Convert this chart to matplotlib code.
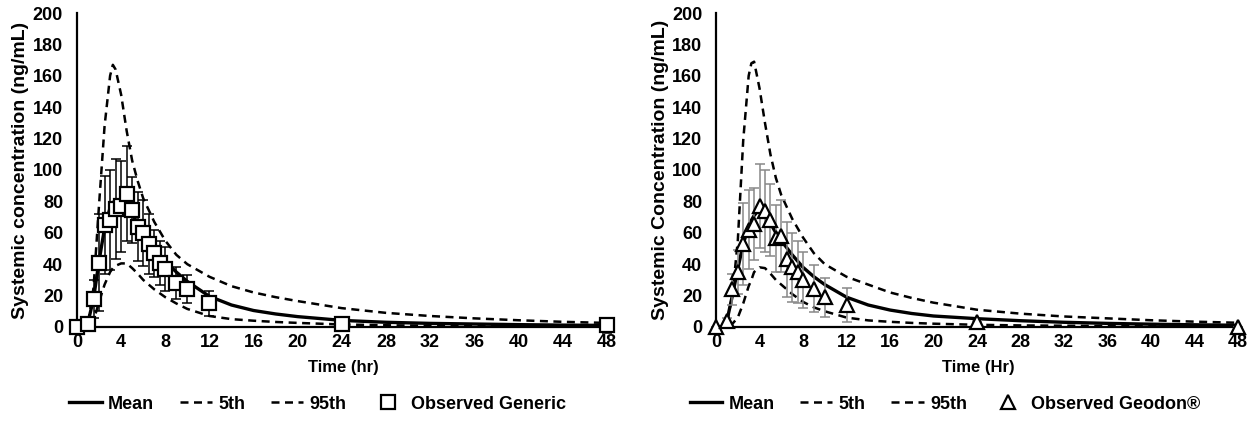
import matplotlib
matplotlib.use("Agg")
import matplotlib.pyplot as plt
from matplotlib.lines import Line2D

plt.rcParams['font.family'] = ['Liberation Sans', 'DejaVu Sans']
plt.rcParams['font.weight'] = 'bold'

# model time grid (hr), shared by the simulated curves
t_model = [0, 0.5, 1, 1.5, 2, 2.5, 3, 3.25, 3.5, 4, 4.5, 5, 5.5, 6, 7, 8, 9, 10,
           12, 14, 16, 18, 20, 24, 28, 32, 36, 40, 44, 48]

# generic panel: simulated mean / 5th / 95th
mean_gen = [0, 0, 3, 18, 42, 63, 76, 79, 81, 80, 77, 72, 66, 60, 50, 42, 35, 29,
            19.5, 14, 10.5, 8.3, 6.6, 4.2, 3.0, 2.3, 1.9, 1.5, 1.2, 1.0]
p05_gen = [0, 0, 0, 4, 16, 27, 35, 37.5, 39, 40.5, 40.5, 37.5, 34, 30, 24, 19, 15, 11.5,
           7, 5, 4, 3.2, 2.6, 1.6, 1.1, 0.8, 0.6, 0.5, 0.4, 0.3]
p95_gen = [0, 0, 2, 25, 78, 128, 160, 167, 164, 148, 125, 106, 93, 82, 67, 55, 46, 40,
           32, 26, 22, 19, 16.5, 12, 9, 7, 5.5, 4.3, 3.3, 2.6]

# generic panel: observed mean +/- SD
t_obs_gen = [0, 1, 1.5, 2, 2.5, 3, 3.5, 4, 4.5, 5, 5.5, 6, 6.5, 7, 7.5, 8, 9, 10, 12, 24, 48]
c_obs_gen = [0, 2, 18, 41, 65, 68, 75, 77, 85, 74.5, 64, 60, 53, 47, 41, 37, 28, 24, 15, 2, 1]
sd_obs_gen = [0, 3, 12, 31, 31, 32, 32, 29, 30, 21, 22, 21, 19, 15, 14, 14, 10, 9, 8, 1, 5]

# Geodon panel: simulated mean / 5th / 95th
mean_geo = [0, 0, 4, 20, 37, 53, 64, 68, 71, 75, 72, 66, 60, 55, 46, 38, 32, 27,
            19, 14, 10.8, 8.6, 7.0, 5.3, 4.0, 3.0, 2.3, 1.8, 1.4, 1.1]
p05_geo = [0, 0, 0, 2, 6, 15, 26, 30, 35, 38, 37.5, 34, 30, 27, 21, 16, 12.5, 10,
           6, 4.2, 3.3, 2.6, 2.1, 1.4, 1.0, 0.8, 0.6, 0.5, 0.4, 0.3]
p95_geo = [0, 0, 3, 20, 55, 119, 160, 168, 169, 152, 130, 110, 95, 84, 69, 57, 47, 40,
           32, 27, 22, 18.5, 15.5, 11, 8.5, 6.7, 5.5, 4.3, 3.4, 2.7]

# Geodon panel: observed mean +/- SD
t_obs_geo = [0, 1, 1.5, 2, 2.5, 3, 3.5, 4, 4.5, 5, 5.5, 6, 6.5, 7, 7.5, 8, 9, 10, 12, 24, 48]
c_obs_geo = [0, 4, 24, 35, 53, 62, 65.5, 77, 74, 68, 56.5, 58, 43, 38, 35, 30, 24.5, 19, 14, 3, 0]
sd_obs_geo = [0, 2, 10, 14, 26, 25, 23, 27, 26, 23, 21.5, 23, 24, 22, 20, 18, 15, 12.5, 11, 1, 0]

x_ticks = list(range(0, 49, 4))
y_ticks = list(range(0, 201, 20))

DASH = (0, (3.2, 2.2))


def draw_panel(ax, mean, p05, p95, t_obs, c_obs, sd_obs, marker, ms, err_color,
               ylabel, xlabel):
    ax.plot(t_model, p95, color='black', lw=1.8, linestyle=DASH, zorder=2)
    ax.plot(t_model, p05, color='black', lw=1.8, linestyle=DASH, zorder=2)
    ax.plot(t_model, mean, color='black', lw=2.4, zorder=3)
    ax.errorbar(t_obs, c_obs, yerr=sd_obs, fmt='none', ecolor=err_color,
                elinewidth=1.1, capsize=3.5, capthick=1.1, zorder=4, clip_on=False)
    ax.plot(t_obs, c_obs, linestyle='none', marker=marker, ms=ms, mfc='white',
            mec='black', mew=1.6, zorder=5, clip_on=False)

    ax.set_xlim(0, 48.3)
    ax.set_ylim(0, 200)
    ax.set_xticks(x_ticks)
    ax.set_yticks(y_ticks)
    ax.tick_params(length=0, labelsize=13)
    ax.tick_params(axis='y', pad=10)
    ax.tick_params(axis='x', pad=5)
    for s in ('top', 'right'):
        ax.spines[s].set_visible(False)
    for s in ('left', 'bottom'):
        ax.spines[s].set_linewidth(1.6)
    ax.set_ylabel(ylabel, fontsize=14, fontweight='bold')
    ax.set_xlabel(xlabel, fontsize=12, fontweight='bold')
    ax.yaxis.set_label_coords(-0.09, 0.5)
    ax.xaxis.set_label_coords(0.5, -0.105)


fig = plt.figure(figsize=(12.6, 4.21), dpi=100)
ax1 = fig.add_axes([0.0611, 0.2233, 0.423, 0.7458])
ax2 = fig.add_axes([0.5683, 0.2233, 0.4167, 0.7458])

draw_panel(ax1, mean_gen, p05_gen, p95_gen, t_obs_gen, c_obs_gen, sd_obs_gen,
           's', 10.5, 'black', 'Systemic concentration (ng/mL)', 'Time (hr)')
draw_panel(ax2, mean_geo, p05_geo, p95_geo, t_obs_geo, c_obs_geo, sd_obs_geo,
           '^', 10.5, '#888888', 'Systemic Concentration (ng/mL)', 'Time (Hr)')


def legend_handles(marker, label):
    return ([Line2D([], [], color='black', lw=2.4),
             Line2D([], [], color='black', lw=1.8, linestyle=DASH),
             Line2D([], [], color='black', lw=1.8, linestyle=DASH),
             Line2D([], [], linestyle='none', marker=marker, ms=10, mfc='white',
                    mec='black', mew=1.6)],
            ['Mean', '5th', '95th', label])


for xc, marker, label in [(0.252, 's', 'Observed Generic'),
                          (0.75, '^', 'Observed Geodon®')]:
    h, l = legend_handles(marker, label)
    fig.legend(h, l, loc='center', bbox_to_anchor=(xc, 0.04), ncol=4,
               frameon=False, fontsize=13, handlelength=1.8, handletextpad=0.35,
               columnspacing=1.4, borderaxespad=0)

fig.savefig('out.png', dpi=100)
